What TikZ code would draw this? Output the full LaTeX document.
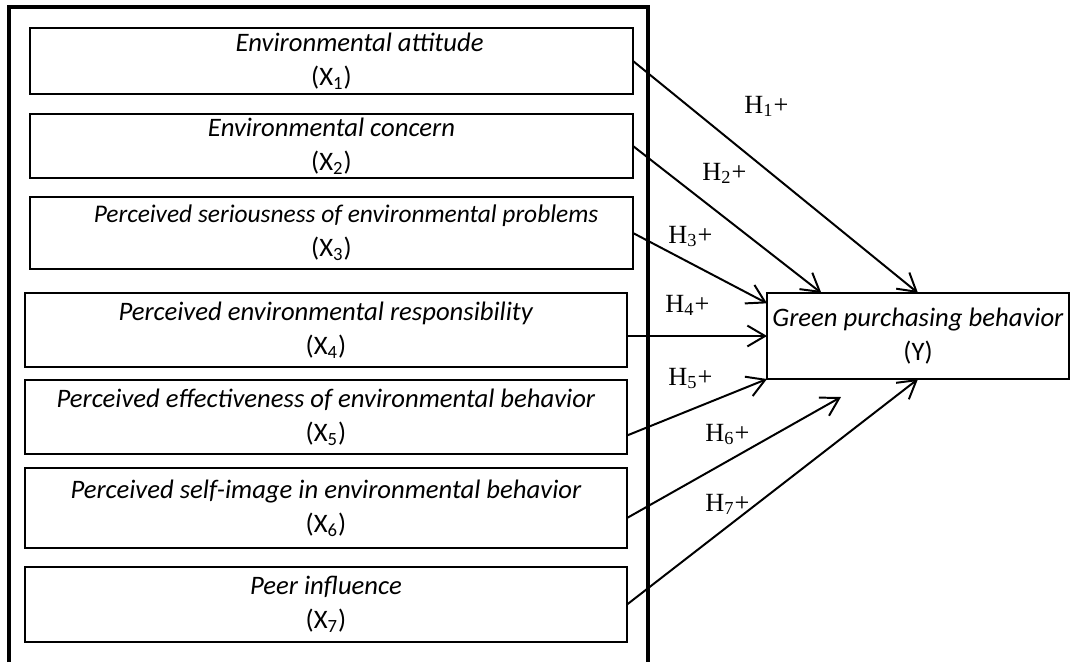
\documentclass[tikz,border=0pt]{standalone}
\usepackage{fontspec}
\setmainfont{Carlito}
\newfontfamily\hypfont{Liberation Serif}
\usetikzlibrary{arrows.meta,calc}

\begin{document}
\begin{tikzpicture}[x=0.48pt,y=-0.48pt]

\def\px{0.48pt}
\def\boxline{0.95pt}
\def\frameline{1.6pt}

\tikzset{
	varbox/.style={draw,line width=\boxline,inner sep=0pt,outer sep=0pt,align=center,font=\fontsize{12.8}{16.3}\selectfont,
		execute at begin node={\rule{0pt}{13pt}}},
	hyp/.style={inner sep=0pt,anchor=base west,font=\hypfont\fontsize{12.6}{15}\selectfont},
	link/.style={line width=\boxline,-{Straight Barb[length=8.5pt,width=10pt]}}
}

% \varbox{name}{left}{top}{right}{bottom}{text}
\newcommand*{\varbox}[6]{
	\node[varbox,minimum width={(#4-#2)*\px},minimum height={(#5-#3)*\px}] (#1) at ({(#2+#4)/2},{(#3+#5)/2}) {#6};
}

	\useasboundingbox (0,0) rectangle (1071,662);

	% frame round the variables
	\draw [line width=\frameline] (9,662) -- (9,7) -- (648,7) -- (648,662);

	\varbox{x1}{30}{28}{633}{94}{\hspace*{27pt}\textit{Environmental attitude}\\(X\textsubscript{1})}
	\varbox{x2}{30}{114}{633}{178}{\textit{Environmental concern}\\(X\textsubscript{2})}
	\varbox{x3}{30}{197}{633}{269}{\hspace*{14pt}{\fontsize{12.2}{16.3}\selectfont\textit{Perceived seriousness of environmental problems}}\\(X\textsubscript{3})}
	\varbox{x4}{25}{293}{627}{367}{\textit{Perceived environmental responsibility}\\(X\textsubscript{4})}
	\varbox{x5}{25}{380}{627}{454}{\textit{Perceived effectiveness of environmental behavior}\\(X\textsubscript{5})}
	\varbox{x6}{25}{468}{627}{548}{\textit{Perceived self-image in environmental behavior}\\(X\textsubscript{6})}
	\varbox{x7}{25}{567}{627}{642}{\textit{Peer influence}\\(X\textsubscript{7})}

	\varbox{gpb}{767}{293}{1069}{379}{\textit{Green purchasing behavior}\\(Y)}

	\coordinate (h6end) at (841,397);

	\draw [link] (x1.east) -- (gpb.north);
	\draw [link] (x2.east) -- ($(gpb.north west)!0.18!(gpb.north east)$);
	\draw [link] (x3.east) -- ($(gpb.north west)!0.12!(gpb.south west)$);
	\draw [link] (x4.east |- gpb.west) -- (gpb.west);
	\draw [link] ($(x5.east)!0.5!(x5.south east)$) -- (gpb.south west);
	\draw [link] ($(x6.east)!0.25!(x6.south east)$) -- (h6end);
	\draw [link] (x7.east) -- (gpb.south);

	\foreach \i/\x/\y in {1/744/113,2/702/180,3/668/243,4/665/312,5/668/385,6/705/441,7/705/511}
		\node [hyp] (h\i) at (\x,\y) {H\textsubscript{\i}+};

\end{tikzpicture}
\end{document}
